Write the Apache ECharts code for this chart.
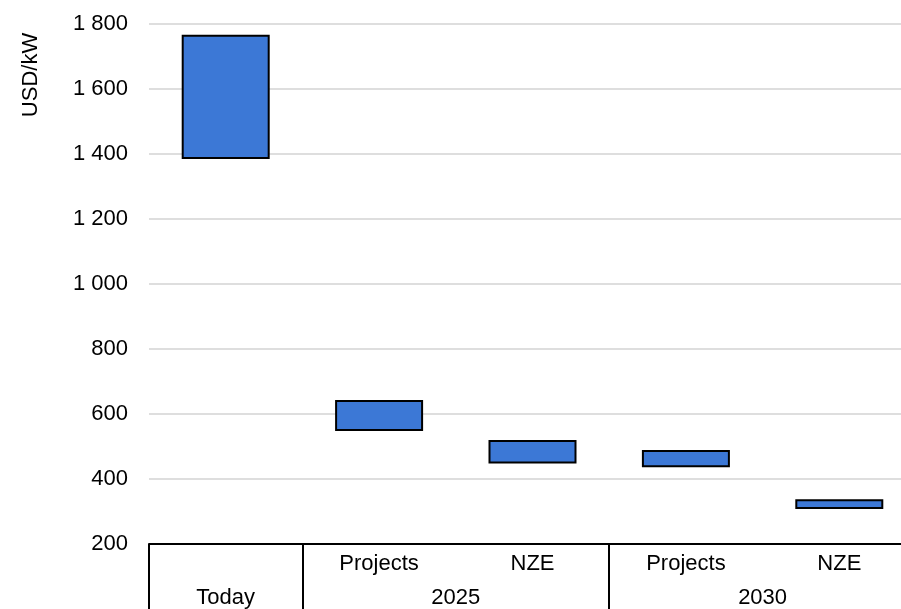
<!DOCTYPE html>
<html>
<head>
<meta charset="utf-8">
<script src="https://cdn.jsdelivr.net/npm/echarts@6/dist/echarts.min.js"></script>
<style>html,body{margin:0;padding:0;background:#fff;}#c{width:901px;height:609px;}</style>
</head>
<body>
<div id="c"></div>
<script>
var categories = ['Today', 'Projects', 'NZE', 'Projects', 'NZE'];
var groupLabels = ['Today', '2025', '2030'];
var groupCenters = [0.5, 2, 4];
var groupBounds = [0, 1, 3, 5];
var lowValues = [1385, 548, 448, 436, 308];
var highValues = [1767, 643, 520, 489, 338];
var yTicks = [200, 400, 600, 800, 1000, 1200, 1400, 1600, 1800];

var FONT = 'Liberation Sans, Arial, sans-serif';
var spans = highValues.map(function (h, i) { return h - lowValues[i]; });
var subLabels = categories.map(function (c, i) { return i === 0 ? '' : c; });

var chart = echarts.init(document.getElementById('c'));
chart.setOption({
  animation: false,
  textStyle: { fontFamily: FONT },
  grid: { left: 149, width: 767, top: 24, bottom: 65, outerBoundsMode: 'none' },
  xAxis: [
    {
      type: 'category',
      data: subLabels,
      position: 'bottom',
      axisLine: { show: true, lineStyle: { color: '#000', width: 2 } },
      axisTick: { show: false },
      axisLabel: { interval: 0, margin: 9, color: '#000', fontSize: 22, fontFamily: FONT }
    },
    {
      type: 'value',
      min: 0,
      max: 5,
      position: 'bottom',
      splitLine: { show: false },
      axisLine: { show: false },
      axisTick: { show: true, customValues: groupBounds, length: 66, lineStyle: { color: '#000', width: 2 } },
      axisLabel: {
        customValues: groupCenters,
        margin: 43,
        color: '#000', fontSize: 22, fontFamily: FONT,
        formatter: function (v) {
          var idx = groupCenters.indexOf(v);
          return idx >= 0 ? groupLabels[idx] : '';
        }
      }
    }
  ],
  yAxis: {
    type: 'value',
    min: yTicks[0],
    max: yTicks[yTicks.length - 1],
    interval: 200,
    axisLine: { show: false },
    axisTick: { show: false },
    splitLine: { lineStyle: { color: '#dedede', width: 2 } },
    axisLabel: {
      margin: 21, color: '#000', fontSize: 22, fontFamily: FONT,
      formatter: function (v) { return String(v).replace(/\B(?=(\d{3})+(?!\d))/g, ' '); }
    }
  },
  graphic: [{
    type: 'text',
    x: 31, y: 75,
    rotation: Math.PI / 2,
    style: { text: 'USD/kW', fill: '#000', font: '22px ' + FONT, align: 'center', verticalAlign: 'middle' }
  }],
  series: [
    {
      type: 'bar', stack: 'r', xAxisIndex: 0, barWidth: 88,
      data: lowValues,
      itemStyle: { color: 'transparent', borderWidth: 0 },
      silent: true
    },
    {
      type: 'bar', stack: 'r', xAxisIndex: 0, barWidth: 88,
      data: spans,
      itemStyle: { color: '#3c78d6', borderColor: '#000', borderWidth: 2 }
    }
  ]
});
</script>
</body>
</html>
